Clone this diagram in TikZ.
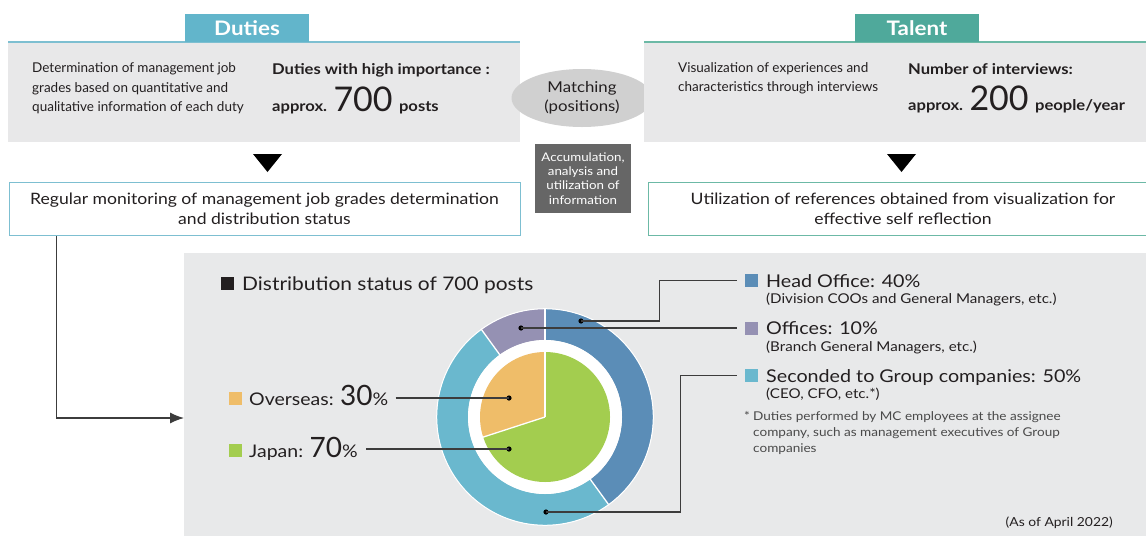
\documentclass[tikz,border=0pt]{standalone}
\usepackage{fontspec}
\setmainfont{Lato}[FakeStretch=1.12]
\newfontfamily\narrowfont{Lato}
\usepackage{tikz}
\usetikzlibrary{shapes.geometric}
\usetikzlibrary{calc}
\usetikzlibrary{arrows.meta}

\definecolor{boxgray}{HTML}{E8E8E9}
\definecolor{panelgray}{HTML}{E8E9EA}
\definecolor{ellgray}{HTML}{D0D0D0}
\definecolor{accumgray}{HTML}{666666}
\definecolor{dutyblue}{HTML}{62B5CB}
\definecolor{dutyline}{HTML}{7DBFD1}
\definecolor{talentgreen}{HTML}{4FA99B}
\definecolor{talentline}{HTML}{6CB9A6}
\definecolor{inkblack}{HTML}{231F20}
\definecolor{leadgray}{HTML}{3C3C3C}
\definecolor{notegray}{HTML}{4A4A4A}
\definecolor{hoblue}{HTML}{5B8DB7}
\definecolor{ofpurple}{HTML}{9591B3}
\definecolor{scblue}{HTML}{6AB8CE}
\definecolor{jpgreen}{HTML}{A3CD4F}
\definecolor{osorange}{HTML}{EFBD69}

\begin{document}
\begin{tikzpicture}[x=1pt,y=-1pt,
  every node/.style={text=inkblack},
  leader/.style={draw=leadgray,line width=1.2pt},
  keysq/.style={minimum size=13pt,inner sep=0pt}]
\useasboundingbox[fill=white] (0,0) rectangle (1146,536);

% Draw the duties side
\node[fill=boxgray,minimum width=512,minimum height=100,anchor=north west,inner sep=0](dbox) at (8,42){};
\draw[dutyline,line width=1.5] (dbox.north west) -- (dbox.north east);
\node[fill=dutyblue,minimum width=124,minimum height=28,anchor=south,inner sep=0,text=white,font=\fontsize{20}{22}\selectfont\bfseries](dtab) at (247,42.5){Duties};
\node[anchor=north west,align=left,inner sep=0,font=\narrowfont\fontsize{13.5}{19.5}\selectfont](dtxt) at (32,62.5){Determination of management job\\grades based on quantitative and\\qualitative information of each duty};
\node[anchor=base west,inner sep=0,font=\fontsize{14.8}{17}\selectfont\bfseries](dimp) at (272,74){Duties with high importance :};
\node[anchor=base west,inner sep=0,font=\fontsize{14.8}{17}\selectfont\bfseries](dapprox) at (272,111){approx.};
\node[anchor=base west,inner sep=0,font=\narrowfont\fontsize{34}{36}\selectfont](dnum) at ($(dapprox.base east)+(6,0)$){700};
\node[anchor=base west,inner sep=0,font=\fontsize{14.8}{17}\selectfont\bfseries](dposts) at ($(dnum.base east)+(6,0)$){posts};
\fill[black] (253,154) -- (282,154) -- (267.5,172) -- cycle;
\node[draw=dutyline,line width=1,fill=white,minimum width=511,minimum height=53,anchor=north west,align=center,font=\fontsize{15.7}{20.5}\selectfont](dmon) at (8.5,182){Regular monitoring of management job grades determination\\and distribution status};

% Draw the matching nodes in the middle
\node[ellipse,fill=ellgray,minimum width=141,minimum height=58,inner sep=0,align=center,font=\fontsize{15}{19}\selectfont](match) at (582,98){Matching\\(positions)};
\node[fill=accumgray,minimum width=96,minimum height=69,inner sep=0,align=center,text=white,font=\fontsize{11.9}{14.3}\selectfont](accum) at (583,178.5){Accumulation,\\analysis and\\utilization of\\information};

% Draw the talent side
\node[fill=boxgray,minimum width=510,minimum height=100,anchor=north west,inner sep=0](tbox) at (644,42){};
\draw[talentline,line width=1.5] (tbox.north west) -- (tbox.north east);
\node[fill=talentgreen,minimum width=124,minimum height=28,anchor=south,inner sep=0,text=white,font=\fontsize{20}{22}\selectfont\bfseries](ttab) at (917,42.5){Talent};
\node[anchor=north west,align=left,inner sep=0,font=\narrowfont\fontsize{13.5}{19}\selectfont](ttxt) at (678,62.5){Visualization of experiences and\\characteristics through interviews};
\node[anchor=base west,inner sep=0,font=\fontsize{14.8}{17}\selectfont\bfseries](tint) at (908,74){Number of interviews:};
\node[anchor=base west,inner sep=0,font=\fontsize{14.8}{17}\selectfont\bfseries](tapprox) at (908,110){approx.};
\node[anchor=base west,inner sep=0,font=\narrowfont\fontsize{34}{36}\selectfont](tnum) at ($(tapprox.base east)+(6,0)$){200};
\node[anchor=base west,inner sep=0,font=\fontsize{14.8}{17}\selectfont\bfseries](tppl) at ($(tnum.base east)+(6,0)$){people/year};
\fill[black] (887,154) -- (916,154) -- (901.5,172) -- cycle;
\node[draw=talentline,line width=1,fill=white,minimum width=510,minimum height=53,anchor=north west,align=center,font=\fontsize{15.7}{20.5}\selectfont](tref) at (647.5,182){Utilization of references obtained from visualization for\\effective self reflection};

% Draw the distribution panel
\node[fill=panelgray,minimum width=962,minimum height=283,anchor=north west,inner sep=0](panel) at (184,253){};
\coordinate(armEnd) at (184,418);
\draw[leader,-{Latex[length=14,width=11]}] ($(dmon.south west)+(48,0)$) |- (armEnd);
\node[fill=inkblack,keysq](tsq) at (227,283.5){};
\node[anchor=base west,inner sep=0,font=\fontsize{18.7}{22}\selectfont](title) at (242,290){Distribution status of 700 posts};

% Draw the donut
\begin{scope}[shift={(545,417)},y=1pt]
\fill[hoblue] (90:108) arc[start angle=90,end angle=-54,radius=108] -- (-54:77) arc[start angle=-54,end angle=90,radius=77] -- cycle;
\fill[scblue] (-54:108) arc[start angle=-54,end angle=-234,radius=108] -- (-234:77) arc[start angle=-234,end angle=-54,radius=77] -- cycle;
\fill[ofpurple] (126:108) arc[start angle=126,end angle=90,radius=108] -- (90:77) arc[start angle=90,end angle=126,radius=77] -- cycle;
\draw[white,line width=1] (0,0) circle (108.3);
\foreach \a in {90,-54,126}
  \draw[white,line width=1.3] (\a:76) -- (\a:109);
\fill[white] (0,0) circle (77);
\fill[jpgreen] (0,0) -- (90:65) arc[start angle=90,end angle=-162,radius=65] -- cycle;
\fill[osorange] (0,0) -- (90:65) arc[start angle=90,end angle=198,radius=65] -- cycle;
\foreach \a in {90,198}
  \draw[white,line width=1.3] (0,0) -- (\a:65.5);
\end{scope}

% Draw the dots on the donut
\coordinate(hoDot) at (581,321);
\coordinate(ofDot) at (521,328);
\coordinate(scDot) at (546,512);
\coordinate(osDot) at (509,398);
\coordinate(jpDot) at (509,449);
\foreach \d in {hoDot,ofDot,scDot,osDot,jpDot}
  \fill[black] (\d) circle (2.6);

% Draw the left legend
\node[fill=osorange,keysq](osKey) at (235.5,398.5){};
\node[anchor=base west,inner sep=0,font=\fontsize{17.4}{20}\selectfont](osLbl) at (249,405){Overseas: {\narrowfont\fontsize{28}{30}\selectfont 30}\%};
\node[fill=jpgreen,keysq](jpKey) at (235.5,450.5){};
\node[anchor=base west,inner sep=0,font=\fontsize{17.4}{20}\selectfont](jpLbl) at (249,457){Japan: {\narrowfont\fontsize{28}{30}\selectfont 70}\%};
\draw[leader] ($(osLbl.east |- osDot)+(7,0)$) -- (osDot);
\draw[leader] ($(jpLbl.east |- jpDot)+(8,0)$) -- (jpDot);

% Draw the right legend
\node[fill=hoblue,keysq](hoKey) at (751.5,280.5){};
\node[anchor=base west,inner sep=0,font=\fontsize{17.6}{20}\selectfont](hoLbl) at (766,287){Head Office: 40\%};
\node[anchor=base west,inner sep=0,font=\fontsize{13.5}{14}\selectfont](hoSub) at (766,303){(Division COOs and General Managers, etc.)};
\node[fill=ofpurple,keysq](ofKey) at (751.5,328){};
\node[anchor=base west,inner sep=0,font=\fontsize{17.6}{20}\selectfont](ofLbl) at (766,334){Offices: 10\%};
\node[anchor=base west,inner sep=0,font=\fontsize{13.5}{14}\selectfont](ofSub) at (766,351){(Branch General Managers, etc.)};
\node[fill=scblue,keysq](scKey) at (751.5,375.5){};
\node[anchor=base west,inner sep=0,font=\fontsize{17.6}{20}\selectfont](scLbl) at (766,382){Seconded to Group companies: 50\%};
\node[anchor=base west,inner sep=0,font=\fontsize{13.5}{14}\selectfont](scSub) at (766,398){(CEO, CFO, etc.*)};
\node[anchor=base west,inner sep=0,text=notegray,font=\fontsize{12.1}{16}\selectfont](star) at (744,420){*};
\node[anchor=north west,align=left,inner sep=0,text=notegray,font=\fontsize{12.1}{16.2}\selectfont](note) at (753,411){Duties performed by MC employees at the assignee\\company, such as management executives of Group\\companies};
\draw[leader] (hoDot) -| ($(hoKey.west)+(-85,0)$) -- ($(hoKey.west)+(-8,0)$);
\draw[leader] (ofDot) -- ($(ofKey.west)+(-8,0)$);
\draw[leader] (scDot) -| ($(scKey.west)+(-64,0)$) -- ($(scKey.west)+(-8,0)$);
\node[anchor=base east,inner sep=0,font=\fontsize{12.4}{14}\selectfont](asof) at (1113,526){(As of April 2022)};
\end{tikzpicture}
\end{document}
